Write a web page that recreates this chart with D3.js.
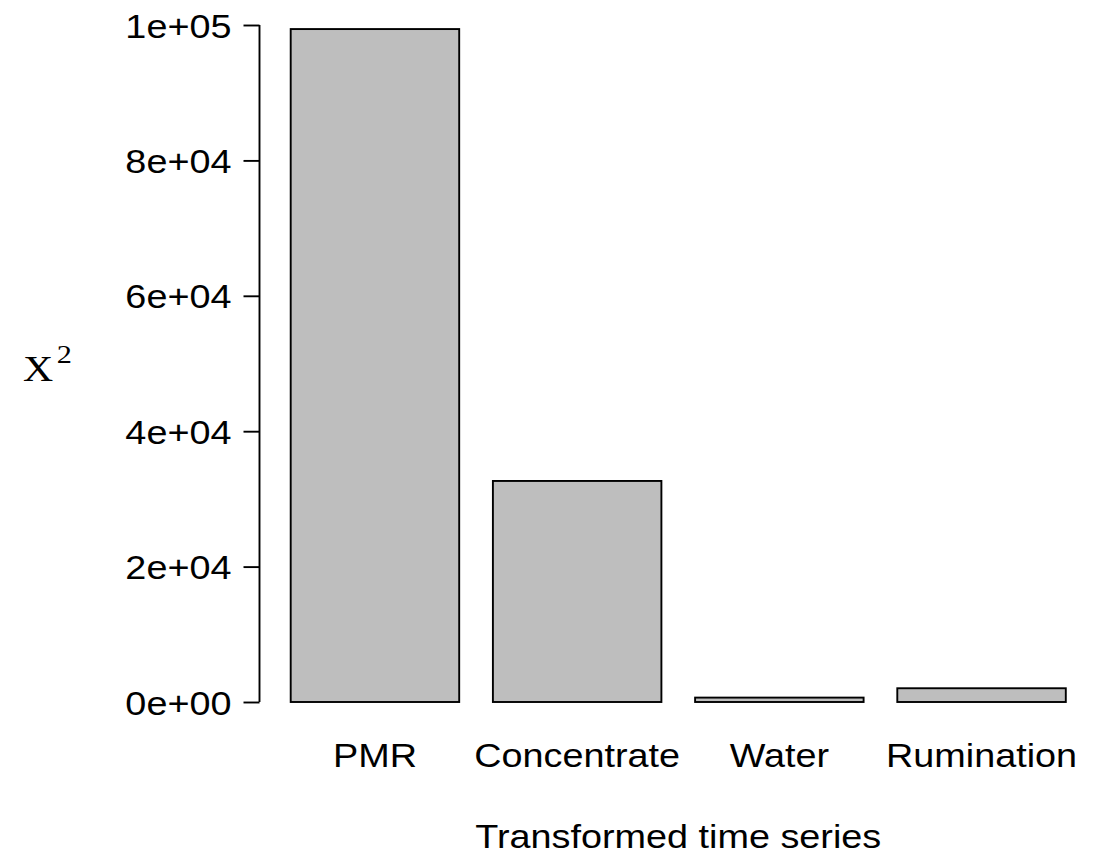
<!DOCTYPE html>
<html>
<head>
<meta charset="utf-8">
<script src="https://cdn.jsdelivr.net/npm/d3@7"></script>
<style>
  html, body { margin: 0; padding: 0; background: #fff; }
  svg { display: block; }
  text { font-family: "Liberation Sans", Arial, sans-serif; fill: #000; }
</style>
</head>
<body>
<svg id="chart" width="1103" height="857"></svg>
<script>
// ---- data ----
const categories = ["PMR", "Concentrate", "Water", "Rumination"];
const values = [99400, 32650, 650, 2030];
const yTicks = [0, 20000, 40000, 60000, 80000, 100000];
const yTickLabels = ["0e+00", "2e+04", "4e+04", "6e+04", "8e+04", "1e+05"];
const xTitle = "Transformed time series";
const yTitle = "X";
const yTitleSup = "2";

// ---- layout ----
const svg = d3.select("#chart");
const plotLeft = 259.5, plotRight = 1097;
const y0px = 702, y1px = 25;
const fontSize = 32.5;
const stretchX = 1.163;   // reference text is horizontally widened
const lw = 1.9;

// R barplot style: bar width 168.5px, gap 0.2 * width
const barW = 168.5, gap = 33.7, step = barW + gap;
const x = d3.scaleBand()
  .domain(categories)
  .range([290.7 - gap / 2, 290.7 - gap / 2 + step * 4])
  .paddingInner(gap / step)
  .paddingOuter(gap / step / 2);

const y = d3.scaleLinear().domain([0, 100000]).range([y0px, y1px]);

// bars
svg.append("g")
  .selectAll("rect")
  .data(values)
  .join("rect")
  .attr("x", (d, i) => x(categories[i]))
  .attr("width", x.bandwidth())
  .attr("y", d => y(d))
  .attr("height", d => y(0) - y(d))
  .attr("fill", "#bebebe")
  .attr("stroke", "#000")
  .attr("stroke-width", lw);

// y axis
const yAxis = d3.axisLeft(y)
  .tickValues(yTicks)
  .tickFormat((d, i) => yTickLabels[i])
  .tickSize(16)
  .tickPadding(12);
const gy = svg.append("g")
  .attr("transform", `translate(${plotLeft},0)`)
  .call(yAxis);
gy.select(".domain").attr("stroke", "#000").attr("stroke-width", lw)
  .attr("d", `M0,${y(0)}V${y(100000)}`);
gy.selectAll(".tick line").attr("stroke", "#000").attr("stroke-width", lw);
gy.selectAll(".tick text")
  .attr("x", null).attr("dy", null)
  .attr("transform", `translate(-28,12) scale(${stretchX},1)`)
  .style("font-family", '"Liberation Sans", Arial, sans-serif')
  .style("font-size", fontSize + "px")
  .attr("fill", "#000");

// x category labels
svg.append("g")
  .selectAll("text")
  .data(categories)
  .join("text")
  .attr("transform", d => `translate(${x(d) + x.bandwidth() / 2},767) scale(${stretchX},1)`)
  .attr("text-anchor", "middle")
  .style("font-size", fontSize + "px")
  .text(d => d);

// x title
svg.append("text")
  .attr("transform", `translate(${(plotLeft + plotRight) / 2},848) scale(${stretchX},1)`)
  .attr("text-anchor", "middle")
  .style("font-size", fontSize + "px")
  .text(xTitle);

// y title (serif, with superscript)
const yt = svg.append("text")
  .attr("transform", `translate(23,${(y0px + y1px) / 2 + 17}) scale(${stretchX},1)`)
  .attr("text-anchor", "start")
  .style("font-family", '"Liberation Serif", "Times New Roman", serif')
  .style("font-size", "36px");
yt.append("tspan").text(yTitle);
yt.append("tspan").attr("dx", 3).attr("dy", -18).style("font-size", "26px").text(yTitleSup);
</script>
</body>
</html>
